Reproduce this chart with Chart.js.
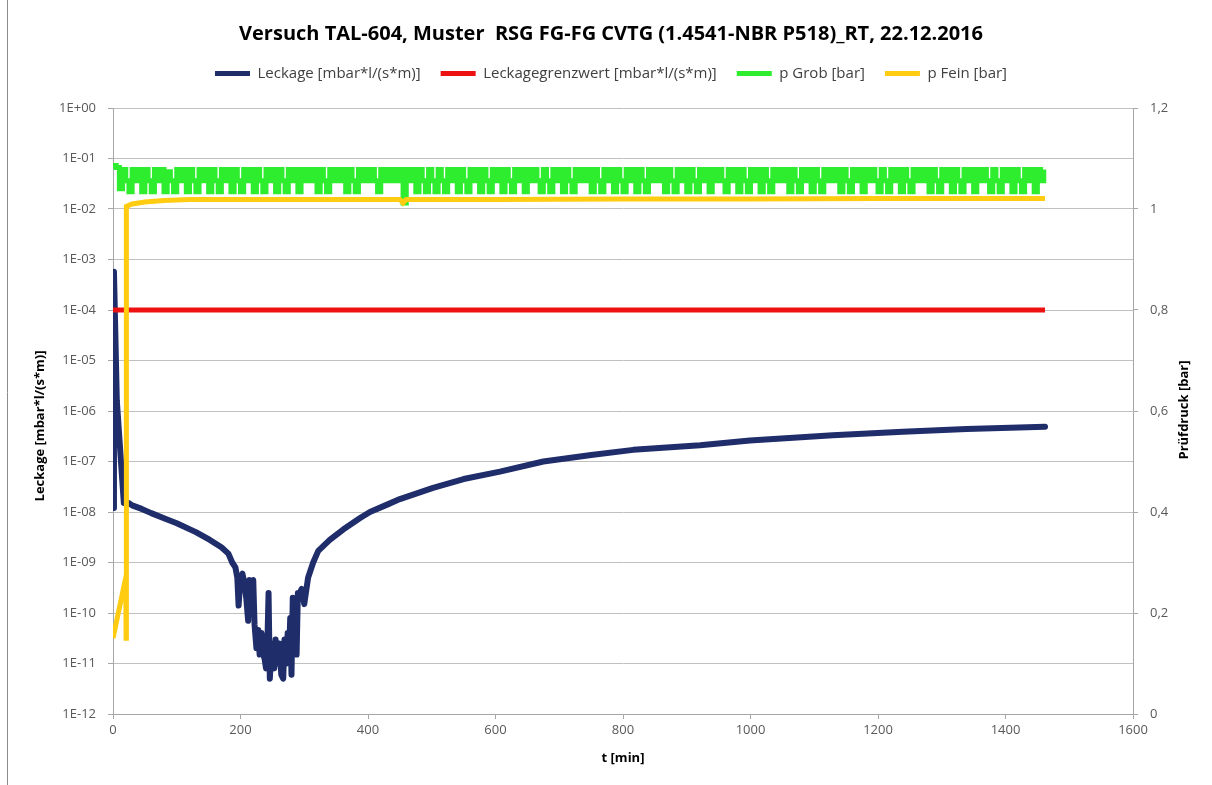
<!DOCTYPE html>
<html>
<head>
<meta charset="utf-8">
<script src="https://cdn.jsdelivr.net/npm/chart.js@4"></script>
<style>
  body { margin: 0; background: #fff; overflow: hidden; }
  #wrap { position: relative; width: 1212px; height: 785px; }
</style>
</head>
<body>
<div id="wrap"><canvas id="chart"></canvas></div>
<script>
// Leckage (left log axis) - time in min, value in mbar*l/(s*m)
const leckageT = [0, 1.5, 6, 17, 25, 30, 45, 60, 80, 100,
    130, 152, 170, 181, 187, 192, 195, 197, 200, 203,
    206, 209, 212, 214, 217, 220, 222, 225, 228, 230,
    233, 235, 238, 240, 242, 244, 246, 249, 251, 253,
    255, 258, 261, 264, 267, 269, 272, 274, 276, 278,
    280, 282, 284, 286, 288, 290, 293, 296, 300, 306,
    314, 322, 340, 361, 387, 403, 430, 450, 502, 550,
    607, 675, 750, 816, 921, 999, 1129, 1239, 1339, 1462];
const leckageV = [1.2e-8, 5.7e-4, 1.6e-6, 1.5e-8, 1.5e-8, 1.35e-8, 1.15e-8, 9.5e-9, 7.5e-9, 6e-9,
    4e-9, 2.8e-9, 2e-9, 1.5e-9, 1e-9, 8e-10, 5e-10, 1.4e-10, 5e-10, 6e-10,
    4e-10, 2e-10, 7e-11, 4.5e-10, 2.5e-10, 4.5e-10, 6e-11, 2e-11, 4.6e-11, 1.5e-11,
    4e-11, 1.6e-11, 1.2e-11, 8e-12, 2e-11, 2.5e-10, 5e-12, 2.5e-11, 1.2e-11, 8e-12,
    3e-11, 1e-11, 2.5e-11, 6e-12, 5e-12, 3e-11, 1e-11, 4e-11, 1.2e-11, 8e-11,
    6e-12, 2e-10, 2e-11, 1.5e-10, 1.5e-11, 2.5e-10, 2.5e-10, 3e-10, 1.5e-10, 5e-10,
    1e-9, 1.7e-9, 2.8e-9, 4.5e-9, 7.5e-9, 1e-8, 1.4e-8, 1.8e-8, 3e-8, 4.5e-8,
    6.3e-8, 1e-7, 1.35e-7, 1.7e-7, 2.1e-7, 2.6e-7, 3.3e-7, 3.9e-7, 4.4e-7, 4.9e-7];

// Leckagegrenzwert (left log axis)
const limitT = [0, 1462];
const limitV = [1e-4, 1e-4];

// p Grob (right axis, bar), sampled every 5 min
const grobT = [0, 5, 10, 15, 20, 25, 30, 35, 40, 45, 50, 55, 60, 65, 70, 75, 80, 85, 90, 95,
    100, 105, 110, 115, 120, 125, 130, 135, 140, 145, 150, 155, 160, 165, 170, 175, 180, 185, 190, 195,
    200, 205, 210, 215, 220, 225, 230, 235, 240, 245, 250, 255, 260, 265, 270, 275, 280, 285, 290, 295,
    300, 305, 310, 315, 320, 325, 330, 335, 340, 345, 350, 355, 360, 365, 370, 375, 380, 385, 390, 395,
    400, 405, 410, 415, 420, 425, 430, 435, 440, 445, 450, 455, 460, 465, 470, 475, 480, 485, 490, 495,
    500, 505, 510, 515, 520, 525, 530, 535, 540, 545, 550, 555, 560, 565, 570, 575, 580, 585, 590, 595,
    600, 605, 610, 615, 620, 625, 630, 635, 640, 645, 650, 655, 660, 665, 670, 675, 680, 685, 690, 695,
    700, 705, 710, 715, 720, 725, 730, 735, 740, 745, 750, 755, 760, 765, 770, 775, 780, 785, 790, 795,
    800, 805, 810, 815, 820, 825, 830, 835, 840, 845, 850, 855, 860, 865, 870, 875, 880, 885, 890, 895,
    900, 905, 910, 915, 920, 925, 930, 935, 940, 945, 950, 955, 960, 965, 970, 975, 980, 985, 990, 995,
    1000, 1005, 1010, 1015, 1020, 1025, 1030, 1035, 1040, 1045, 1050, 1055, 1060, 1065, 1070, 1075, 1080, 1085, 1090, 1095,
    1100, 1105, 1110, 1115, 1120, 1125, 1130, 1135, 1140, 1145, 1150, 1155, 1160, 1165, 1170, 1175, 1180, 1185, 1190, 1195,
    1200, 1205, 1210, 1215, 1220, 1225, 1230, 1235, 1240, 1245, 1250, 1255, 1260, 1265, 1270, 1275, 1280, 1285, 1290, 1295,
    1300, 1305, 1310, 1315, 1320, 1325, 1330, 1335, 1340, 1345, 1350, 1355, 1360, 1365, 1370, 1375, 1380, 1385, 1390, 1395,
    1400, 1405, 1410, 1415, 1420, 1425, 1430, 1435, 1440, 1445, 1450, 1455, 1460];
const grobV = [1.086, 1.082, 1.04, 1.078, 1.056, 1.034, 1.078, 1.056, 1.078, 1.034, 1.078, 1.056, 1.034, 1.078, 1.056, 1.078, 1.034, 1.074, 1.056, 1.034,
    1.078, 1.056, 1.078, 1.034, 1.078, 1.056, 1.034, 1.078, 1.056, 1.078, 1.034, 1.078, 1.056, 1.034, 1.078, 1.056, 1.078, 1.034, 1.078, 1.056,
    1.034, 1.078, 1.056, 1.078, 1.034, 1.078, 1.056, 1.034, 1.078, 1.056, 1.078, 1.034, 1.078, 1.056, 1.034, 1.078, 1.056, 1.078, 1.034, 1.078,
    1.056, 1.078, 1.056, 1.078, 1.034, 1.078, 1.056, 1.034, 1.078, 1.056, 1.078, 1.056, 1.078, 1.034, 1.078, 1.056, 1.034, 1.078, 1.056, 1.078,
    1.056, 1.078, 1.056, 1.034, 1.078, 1.056, 1.078, 1.056, 1.078, 1.056, 1.078, 1.012, 1.078, 1.056, 1.078, 1.034, 1.078, 1.056, 1.034, 1.078,
    1.056, 1.034, 1.078, 1.056, 1.034, 1.078, 1.056, 1.078, 1.034, 1.078, 1.056, 1.034, 1.078, 1.056, 1.078, 1.034, 1.078, 1.056, 1.034, 1.078,
    1.056, 1.078, 1.034, 1.078, 1.056, 1.034, 1.078, 1.056, 1.078, 1.034, 1.078, 1.056, 1.078, 1.056, 1.034, 1.078, 1.056, 1.034, 1.078, 1.056,
    1.078, 1.034, 1.078, 1.056, 1.034, 1.078, 1.056, 1.078, 1.056, 1.078, 1.034, 1.078, 1.056, 1.034, 1.078, 1.056, 1.078, 1.034, 1.078, 1.056,
    1.034, 1.078, 1.056, 1.078, 1.034, 1.078, 1.056, 1.034, 1.078, 1.056, 1.078, 1.056, 1.078, 1.034, 1.078, 1.056, 1.034, 1.078, 1.056, 1.078,
    1.034, 1.078, 1.056, 1.034, 1.078, 1.056, 1.078, 1.034, 1.078, 1.056, 1.078, 1.056, 1.034, 1.078, 1.056, 1.078, 1.034, 1.078, 1.056, 1.034,
    1.078, 1.056, 1.078, 1.034, 1.078, 1.056, 1.034, 1.078, 1.056, 1.078, 1.056, 1.078, 1.034, 1.078, 1.056, 1.034, 1.078, 1.056, 1.078, 1.034,
    1.078, 1.056, 1.034, 1.078, 1.056, 1.078, 1.056, 1.078, 1.034, 1.078, 1.056, 1.034, 1.078, 1.056, 1.078, 1.034, 1.078, 1.056, 1.078, 1.056,
    1.034, 1.078, 1.056, 1.034, 1.078, 1.056, 1.078, 1.034, 1.078, 1.056, 1.034, 1.078, 1.056, 1.078, 1.056, 1.078, 1.034, 1.078, 1.056, 1.034,
    1.078, 1.056, 1.078, 1.034, 1.078, 1.056, 1.034, 1.078, 1.056, 1.078, 1.034, 1.078, 1.056, 1.078, 1.056, 1.034, 1.078, 1.056, 1.034, 1.078,
    1.056, 1.078, 1.034, 1.078, 1.056, 1.034, 1.078, 1.056, 1.078, 1.034, 1.078, 1.056, 1.078];

// p Fein (right axis, bar)
const feinT = [0, 20, 20.5, 21, 30, 50, 80, 120, 200, 300, 400, 450, 455, 460, 600, 800, 1000, 1200, 1462];
const feinV = [0.15, 0.27, 0.15, 1.005, 1.01, 1.014, 1.017, 1.019, 1.019, 1.019, 1.019, 1.019, 1.012, 1.019, 1.019, 1.02, 1.02, 1.021, 1.021];

// tick labels
const leftTickLabels = ['1E+00', '1E-01', '1E-02', '1E-03', '1E-04', '1E-05', '1E-06',
    '1E-07', '1E-08', '1E-09', '1E-10', '1E-11', '1E-12'];
const rightTickLabels = ['0', '0,2', '0,4', '0,6', '0,8', '1', '1,2'];
const xTickLabels = ['0', '200', '400', '600', '800', '1000', '1200', '1400', '1600'];

const titleText = 'Versuch TAL-604, Muster  RSG FG-FG CVTG (1.4541-NBR P518)_RT, 22.12.2016';
const seriesNames = ['Leckage [mbar*l/(s*m)]', 'Leckagegrenzwert [mbar*l/(s*m)]', 'p Grob [bar]', 'p Fein [bar]'];
const seriesColors = ['#1f2d6b', '#ee1111', '#2eec2e', '#ffcc11'];

const leftTickValues = leftTickLabels.map(Number);
const rightTickValues = rightTickLabels.map(s => Number(s.replace(',', '.')));
const xTickValues = xTickLabels.map(Number);

const toPoints = (xs, ys) => xs.map((x, i) => ({ x, y: ys[i] }));

Chart.defaults.font.family = "'Open Sans', sans-serif";
Chart.defaults.color = '#595959';

// push the plot area down below the legend
const legendGap = {
    id: 'legendGap',
    beforeInit(chart) {
        if (!chart.legend) return;
        const fit = chart.legend.fit;
        chart.legend.fit = function () {
            fit.call(this);
            this.height += 17;
        };
    }
};

// frame line and the two rotated axis titles
const decorations = {
    id: 'decorations',
    afterDraw(chart) {
        const ctx = chart.ctx;
        ctx.save();
        ctx.strokeStyle = '#8c8c8c';
        ctx.lineWidth = 1;
        ctx.beginPath();
        ctx.moveTo(7.5, 0);
        ctx.lineTo(7.5, 785);
        ctx.stroke();

        ctx.fillStyle = '#000';
        ctx.font = "bold 13px 'Open Sans', sans-serif";
        ctx.textAlign = 'center';
        ctx.textBaseline = 'middle';
        ctx.save();
        ctx.translate(40, 426);
        ctx.rotate(-Math.PI / 2);
        ctx.fillText('Leckage [mbar*l/(s*m)]', 0, 0);
        ctx.restore();
        ctx.save();
        ctx.translate(1184, 410);
        ctx.rotate(-Math.PI / 2);
        ctx.fillText('Prüfdruck [bar]', 0, 0);
        ctx.restore();
        ctx.restore();
    }
};

const ctx = document.getElementById('chart').getContext('2d');
new Chart(ctx, {
    type: 'line',
    data: {
        datasets: [
            {
                label: seriesNames[0],
                data: toPoints(leckageT, leckageV),
                borderColor: seriesColors[0],
                backgroundColor: seriesColors[0],
                borderWidth: 6,
                borderJoinStyle: 'round',
                borderCapStyle: 'round',
                yAxisID: 'y',
                order: 4
            },
            {
                label: seriesNames[1],
                data: toPoints(limitT, limitV),
                borderColor: seriesColors[1],
                backgroundColor: seriesColors[1],
                borderWidth: 5,
                yAxisID: 'y',
                order: 3
            },
            {
                label: seriesNames[2],
                data: toPoints(grobT, grobV),
                borderColor: seriesColors[2],
                backgroundColor: seriesColors[2],
                borderWidth: 5,
                stepped: true,
                yAxisID: 'y2',
                order: 2
            },
            {
                label: seriesNames[3],
                data: toPoints(feinT, feinV),
                borderColor: seriesColors[3],
                backgroundColor: seriesColors[3],
                borderWidth: 5,
                yAxisID: 'y2',
                order: 1
            }
        ]
    },
    options: {
        responsive: true,
        maintainAspectRatio: false,
        animation: false,
        elements: { point: { radius: 0 }, line: { tension: 0 } },
        layout: { padding: { left: 10, right: 0, top: 0, bottom: 0 } },
        plugins: {
            tooltip: { enabled: false },
            title: {
                display: true,
                text: titleText,
                color: '#000',
                font: { size: 20, weight: 'bold' },
                padding: { top: 22, bottom: 0 }
            },
            legend: {
                display: true,
                labels: {
                    color: '#404040',
                    font: { size: 15 },
                    boxWidth: 35,
                    boxHeight: 5,
                    padding: 20,
                    sort: (a, b) => a.datasetIndex - b.datasetIndex,
                    generateLabels: chart => Chart.defaults.plugins.legend.labels.generateLabels(chart)
                        .map(l => ({ ...l, lineWidth: 0 }))
                }
            }
        },
        scales: {
            x: {
                type: 'linear',
                min: 0,
                max: 1600,
                afterFit: s => { s.height = 71; },
                afterBuildTicks: s => { s.ticks = xTickValues.map(v => ({ value: v })); },
                ticks: {
                    autoSkip: false,
                    maxRotation: 0,
                    padding: 3,
                    font: { size: 13 },
                    callback: v => xTickLabels[xTickValues.indexOf(v)]
                },
                grid: { drawOnChartArea: false, tickLength: 5, color: '#a6a6a6' },
                border: { color: '#a6a6a6' },
                title: {
                    display: true,
                    text: 't [min]',
                    color: '#000',
                    font: { size: 13, weight: 'bold' },
                    padding: { top: 0, bottom: 19 }
                }
            },
            y: {
                type: 'logarithmic',
                position: 'left',
                min: 1e-12,
                max: 1,
                afterFit: s => { s.width = 103; },
                afterBuildTicks: s => { s.ticks = leftTickValues.map(v => ({ value: v })); },
                ticks: {
                    autoSkip: false,
                    padding: 12,
                    font: { size: 13 },
                    callback: v => leftTickLabels[leftTickValues.indexOf(v)]
                },
                grid: { color: '#c0c0c0', tickLength: 5, tickColor: '#a6a6a6' },
                border: { color: '#a6a6a6' }
            },
            y2: {
                type: 'linear',
                position: 'right',
                min: 0,
                max: 1.2,
                afterFit: s => { s.width = 79; },
                afterBuildTicks: s => { s.ticks = rightTickValues.map(v => ({ value: v })); },
                ticks: {
                    autoSkip: false,
                    padding: 12,
                    font: { size: 13 },
                    callback: v => rightTickLabels[rightTickValues.indexOf(v)]
                },
                grid: { drawOnChartArea: false, tickLength: 5, color: '#a6a6a6' },
                border: { color: '#a6a6a6' }
            }
        }
    },
    plugins: [legendGap, decorations]
});
</script>
</body>
</html>
